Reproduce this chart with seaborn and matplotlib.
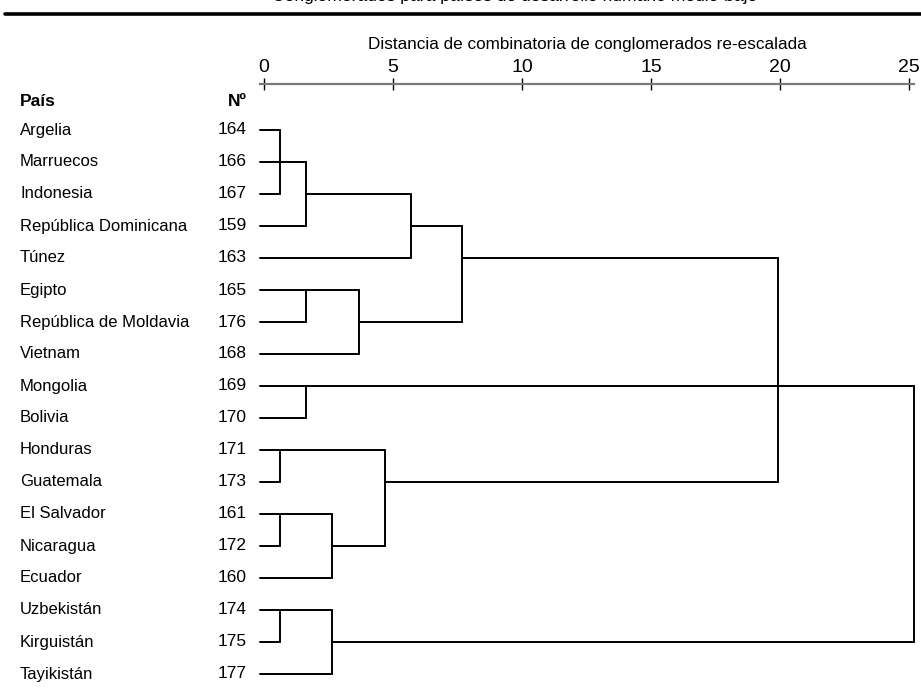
import matplotlib
matplotlib.use("Agg")
import matplotlib.pyplot as plt
import seaborn as sns
import pandas as pd
from matplotlib.lines import Line2D

sns.set_theme(style="white")
plt.rcParams["font.family"] = ["Liberation Sans", "DejaVu Sans"]
plt.rcParams["text.color"] = "black"
plt.rcParams["axes.labelcolor"] = "black"
plt.rcParams["xtick.color"] = "black"

# Leaves (top to bottom)
paises = ["Argelia", "Marruecos", "Indonesia", "República Dominicana", "Túnez",
          "Egipto", "República de Moldavia", "Vietnam", "Mongolia", "Bolivia",
          "Honduras", "Guatemala", "El Salvador", "Nicaragua", "Ecuador",
          "Uzbekistán", "Kirguistán", "Tayikistán"]
numeros = ["164", "166", "167", "159", "163", "165", "176", "168", "169", "170",
           "171", "173", "161", "172", "160", "174", "175", "177"]

# Agglomeration steps: members (leaf numbers or earlier step names),
# rescaled distance and the row where the joined branch continues.
pasos = ["A", "B", "C", "D", "E", "F", "G", "H", "I", "J", "K", "L", "M", "N", "O"]
miembros = [["164", "167"], ["A", "166", "159"], ["B", "163"], ["165", "176"],
            ["D", "168"], ["C", "E"], ["169", "170"], ["171", "173"],
            ["161", "172"], ["I", "160"], ["H", "J"], ["F", "K"],
            ["174", "175"], ["M", "177"], ["L", "G", "N"]]
distancias = [0.62, 1.63, 5.70, 1.63, 3.68, 7.67, 1.63, 0.62, 0.62, 2.63,
              4.70, 19.9, 0.62, 2.63, 25.2]
fila_rama = [1, 2, 3, 5, 6, 4, 8, 10, 12, 13, 11, 8, 15, 16, 8]

ticks = [0, 5, 10, 15, 20, 25]
x_inicio = -0.15

W, H = 921, 695
fig = plt.figure(figsize=(W / 100, H / 100), dpi=100)

# axes placement: x data 0 -> px 264, 25 -> px 909.3 ; rows 32 px apart, row 0 at px 130
px_per_unit = (909.3 - 264) / 25
xlim = (x_inicio, 25.2)
left_px = 264 + xlim[0] * px_per_unit
right_px = 264 + xlim[1] * px_per_unit
top_px = 83.5
row_top = -(130 - top_px) / 32
row_bot = 17.55
bot_px = 130 + row_bot * 32
ax = fig.add_axes([left_px / W, 1 - bot_px / H, (right_px - left_px) / W, (bot_px - top_px) / H])

# Build segment table from the agglomeration steps
nodo_x = {n: x_inicio for n in numeros}
nodo_y = {n: i for i, n in enumerate(numeros)}
segs = []
for p, m, d, r in zip(pasos, miembros, distancias, fila_rama):
    ys = [nodo_y[c] for c in m]
    for c in m:
        segs.append({"x": [nodo_x[c], d], "y": [nodo_y[c], nodo_y[c]]})
    segs.append({"x": [d, d], "y": [min(ys), max(ys)]})
    nodo_x[p] = d
    nodo_y[p] = r

for s in segs:
    df = pd.DataFrame({"x": s["x"], "y": s["y"]})
    sns.lineplot(data=df, x="x", y="y", ax=ax, color="black", lw=1.4,
                 sort=False, estimator=None, clip_on=False)

ax.set_xlim(*xlim)
ax.set_ylim(row_bot, row_top)
ax.set_ylabel("")
ax.set_yticks([])
for s in ["left", "right", "bottom"]:
    ax.spines[s].set_visible(False)
ax.spines["top"].set_color("#7a7a7a")
ax.spines["top"].set_linewidth(1.6)
ax.xaxis.tick_top()
ax.set_xticks(ticks)
ax.set_xticklabels([str(t) for t in ticks], fontsize=14)
ax.tick_params(axis="x", direction="inout", length=9, width=1.0, color="black",
               pad=1, top=True, bottom=False)
ax.xaxis.set_label_position("top")
ax.set_xlabel("Distancia de combinatoria de conglomerados re-escalada",
              fontsize=12.3, labelpad=7)

# Row labels
for i, (p, n) in enumerate(zip(paises, numeros)):
    y = 1 - (130 + 32 * i) / H
    fig.text(20 / W, y, p, fontsize=12, ha="left", va="center")
    fig.text(247 / W, y, n, fontsize=12.5, ha="right", va="center")
fig.text(20 / W, 1 - 101 / H, "País", fontsize=12.5, fontweight="bold", ha="left", va="center")
fig.text(247 / W, 1 - 101 / H, "Nº", fontsize=12.5, fontweight="bold", ha="right", va="center")

# Heading rule and title
fig.add_artist(Line2D([5 / W, 1], [1 - 14 / H, 1 - 14 / H], color="black", lw=2.6))
fig.text(515 / W, 1 - 1.0 / H, "Conglomerados para países de desarrollo humano medio-bajo",
         fontsize=12.6, ha="center", va="baseline")

fig.savefig("out.png", dpi=100)
